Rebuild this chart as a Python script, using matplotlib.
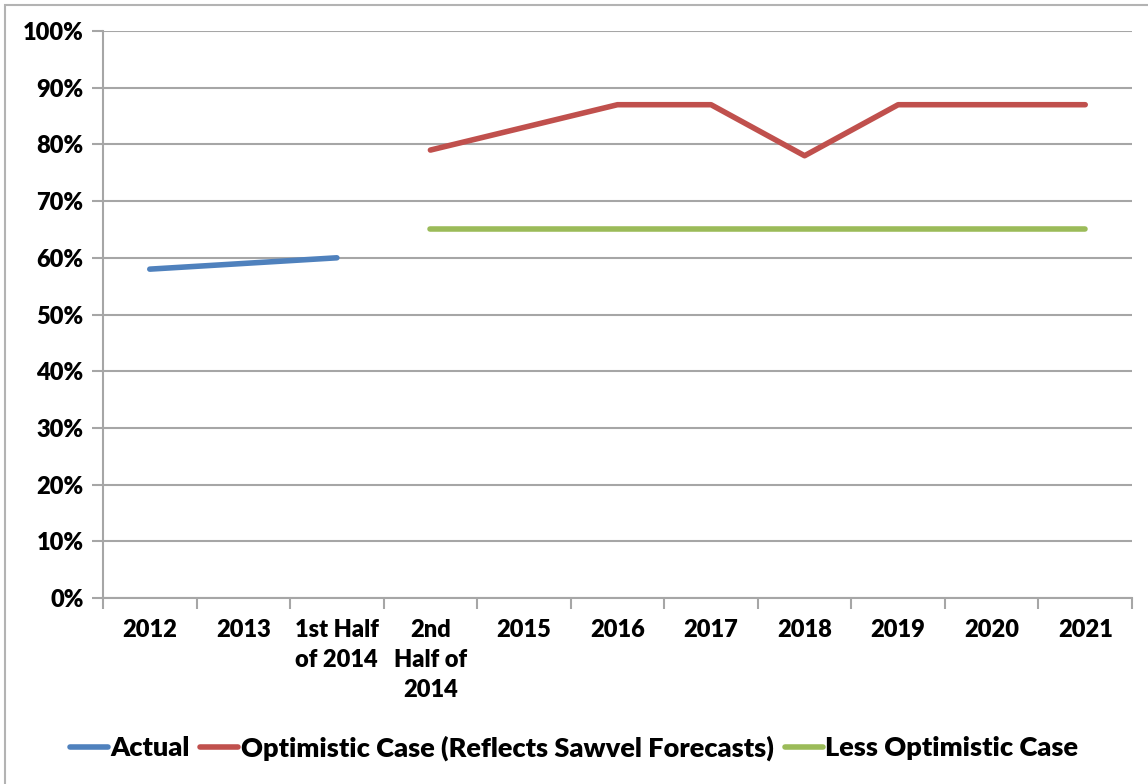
import matplotlib.pyplot as plt
import matplotlib.patches as patches
import numpy as np

plt.rcParams.update({
    "font.family": ["Lato", "DejaVu Sans"],
    "font.weight": "heavy",
    "font.size": 17,
})

categories = ["2012", "2013", "1st Half\nof 2014", "2nd\nHalf of\n2014", "2015",
              "2016", "2017", "2018", "2019", "2020", "2021"]
actual = [58, 59, 60, None, None, None, None, None, None, None, None]
optimistic = [None, None, None, 79, 83, 87, 87, 78, 87, 87, 87]
less_optimistic = [None, None, None, 65, 65, 65, 65, 65, 65, 65, 65]
y_ticks = [0, 10, 20, 30, 40, 50, 60, 70, 80, 90, 100]

def to_arr(vals):
    return np.array([np.nan if v is None else v for v in vals], dtype=float)

fig = plt.figure(figsize=(11.48, 7.84), dpi=100)
ax = fig.add_axes([103 / 1148, 1 - 598 / 784, (1132 - 103) / 1148, (598 - 31) / 784])

# outer chart border
fig.patches.append(patches.Rectangle((5 / 1148, -0.05), 1.1, 1 - 5 / 784 + 0.05,
                                     transform=fig.transFigure, fill=False,
                                     edgecolor="#b3b3b3", linewidth=1.5))

x = np.arange(len(categories))
ax.plot(x, to_arr(actual), color="#4f81bd", lw=4, label="Actual",
        solid_capstyle="round")
ax.plot(x, to_arr(optimistic), color="#c0504d", lw=4,
        label="Optimistic Case (Reflects Sawvel Forecasts)", solid_capstyle="round")
ax.plot(x, to_arr(less_optimistic), color="#9bbb59", lw=4,
        label="Less Optimistic Case", solid_capstyle="round")

ax.set_xlim(-0.5, len(categories) - 0.5)
ax.set_ylim(0, 100)
ax.set_yticks(y_ticks)
ax.set_yticklabels([f"{v}%" for v in y_ticks])
ax.yaxis.grid(True, color="#a6a6a6", lw=1.5)
ax.set_axisbelow(True)

ax.set_xticks(np.arange(-0.5, len(categories)), minor=False)
ax.set_xticklabels([])
ax.set_xticks(x, minor=True)
ax.set_xticklabels(categories, minor=True, va="top", linespacing=1.45)
ax.tick_params(axis="x", which="minor", length=0, pad=15)
ax.tick_params(axis="x", which="major", length=8, color="#a6a6a6", width=1.5)
ax.tick_params(axis="y", length=8, color="#a6a6a6", width=1.5, pad=6)

for s in ["top", "right"]:
    ax.spines[s].set_visible(False)
for s in ["left", "bottom"]:
    ax.spines[s].set_color("#a6a6a6")
    ax.spines[s].set_linewidth(1.5)

fig.legend(loc="center", bbox_to_anchor=(0.5, 1 - 748 / 784), ncol=3, frameon=False,
           handlelength=1.4, handletextpad=0.1, columnspacing=0.4, fontsize=19.5)

fig.savefig("out.png", dpi=100)
